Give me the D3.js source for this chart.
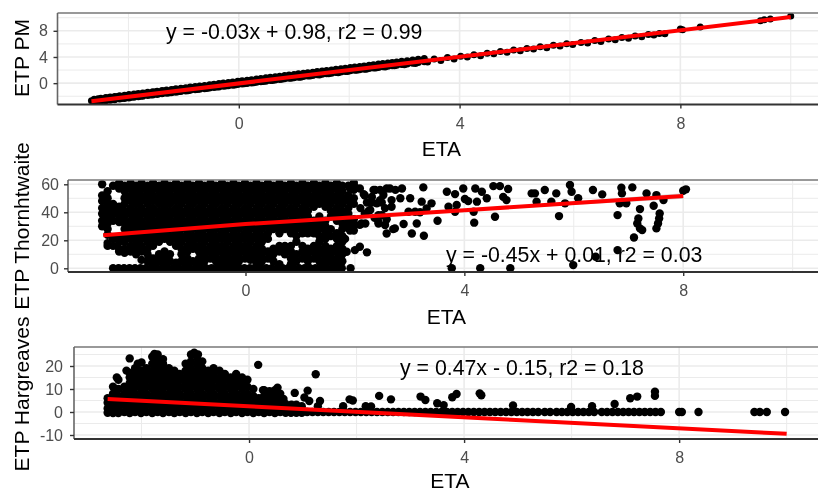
<!DOCTYPE html>
<html><head><meta charset="utf-8">
<script src="https://cdn.jsdelivr.net/npm/d3@7"></script>
<style>
html,body{margin:0;padding:0;background:#fff}
svg{display:block;filter:blur(0.4px)}
text{font-family:"Liberation Sans",Arial,sans-serif}
</style></head><body><svg id="c" width="818" height="492"></svg>
<script>
// ---- Axis labels and ticks
const xLabel = "ETA";
const etaTicks = [0, 4, 8];
const etaMinor = [-2, 2, 6, 10];
const pmTicks = [0, 4, 8];
const pmMinor = [-2, 2, 6, 10];
const thornTicks = [0, 20, 40, 60];
const thornMinor = [10, 30, 50];
const hargTicks = [-10, 0, 10, 20];
const hargMinor = [-5, 5, 15, 25];

// ---- Panel 1: ETP PM, [ETA, ETP]
const pmPoints = [[-2.67,-2.7],[-2.6,-2.85],[-2.55,-2.4],[-2.45,-2.6],[-2.38,-2.25],[-2.3,-2.5],[-2.2,-2.05],[-2.12,-2.35],[-2.03,-1.9],[-1.95,-2.15],[-1.86,-1.7],[-1.78,-2.0],[-1.7,-1.55],[-1.6,-1.8],[-1.52,-1.35],[-1.44,-1.6],[-1.35,-1.2],[-1.27,-1.5],[-1.18,-1.0],[-1.1,-1.3],[-1.0,-.85],[-.92,-1.15],[-.83,-.65],[-.75,-.95],[-.66,-.5],[-.58,-.8],[-.49,-.32],[-.4,-.6],[-.32,-.15],[-.24,-.45],[-.15,0],[-.07,-.28],[.02,.2],[.1,-.1],[.19,.37],[.27,.07],[.36,.54],[.44,.24],[.53,.7],[.61,.4],[.7,.88],[.78,.58],[.87,1.05],[.95,.75],[1.04,1.22],[1.12,.92],[1.21,1.4],[1.29,1.08],[1.38,1.56],[1.46,1.26],[1.55,1.73],[1.63,1.43],[1.72,1.9],[1.8,1.6],[1.89,2.06],[1.97,1.78],[2.06,2.24],[2.14,1.96],[2.23,2.4],[2.31,2.13],[2.4,2.58],[2.48,2.3],[2.57,2.75],[2.65,2.47],[2.74,2.92],[2.82,2.65],[2.9,3.08],[3.0,2.82],[3.1,3.26],[3.2,3.02],[3.3,3.48],[3.42,3.24],[3.54,3.7],[3.66,3.46],[3.78,3.92],[3.9,3.7],[4.02,4.12],[4.14,3.98],[4.26,4.35],[4.38,4.2],[4.5,4.58],[4.62,4.48],[4.74,4.82],[4.86,4.72],[4.98,5.06],[5.1,4.96],[5.22,5.3],[5.34,5.22],[5.46,5.55],[5.58,5.42],[5.7,5.8],[5.82,5.66],[5.94,6.02],[6.05,5.9],[6.2,6.22],[6.32,6.12],[6.45,6.5],[6.56,6.38],[6.7,6.75],[6.82,6.62],[6.94,6.98],[7.06,6.86],[7.18,7.22],[7.3,7.08],[7.42,7.42],[7.52,7.34],[7.62,7.6],[7.72,7.55],[8.0,8.28],[8.04,8.15],[8.36,8.6],[9.45,9.55],[9.52,9.7],[9.63,9.8],[10.0,10.25]];
const pmDenseEta = [-2.62,-2.5,-2.41,-2.33,-2.25,-2.16,-2.07,-1.99,-1.9,-1.82,-1.74,-1.65,-1.56,-1.48,-1.39,-1.31,-1.22,-1.14,-1.05,-.96,-.88,-.79,-.71,-.62,-.53,-.45,-.36,-.28,-.19,-.11,-.02,.06,.15,.23,.32,.4,.49,.57,.66,.74,.83,.91,1.0,1.08,1.17,1.25,1.34,1.42,1.51,1.59,1.68,1.76,1.85,1.93,2.02,2.1,2.19,2.27,2.36,2.44,2.53,2.61,2.7,2.78,2.86,2.95,3.05,3.15,3.25,3.36];
const pmDenseHi = [-2.45,-2.3,-2.2,-2.1,-2.02,-1.93,-1.84,-1.75,-1.66,-1.58,-1.49,-1.4,-1.31,-1.22,-1.13,-1.05,-.96,-.87,-.78,-.69,-.6,-.51,-.43,-.34,-.25,-.16,-.07,.02,.11,.19,.28,.37,.46,.54,.63,.72,.81,.89,.98,1.07,1.16,1.24,1.33,1.42,1.51,1.59,1.68,1.77,1.86,1.94,2.03,2.12,2.21,2.29,2.38,2.47,2.56,2.64,2.73,2.82,2.91,2.99,3.08,3.17,3.25,3.34,3.44,3.55,3.66,3.77];
const pmDenseLo = [-2.9,-2.78,-2.68,-2.6,-2.52,-2.43,-2.34,-2.25,-2.16,-2.08,-1.99,-1.9,-1.81,-1.72,-1.63,-1.55,-1.46,-1.37,-1.28,-1.19,-1.1,-1.01,-.93,-.84,-.75,-.66,-.57,-.48,-.39,-.31,-.22,-.13,-.04,.04,.13,.22,.31,.39,.48,.57,.66,.74,.83,.92,1.01,1.09,1.18,1.27,1.36,1.44,1.53,1.62,1.71,1.79,1.88,1.97,2.06,2.14,2.23,2.32,2.41,2.49,2.58,2.67,2.75,2.84,2.94,3.05,3.16,3.27];
const pmFit = [[-2.67,-2.75],[10,10.1]];

// ---- Panel 2: ETP Thornthwaite. Dense cloud as [ETA, [ETP...]] columns
const thornColumns = [
[-2.62,[60,52,48,43,39,34,30]],
[-2.52,[55,50,46,41,37,32,28,24,18,16]],
[-2.42,[59,46,43,39,34,21,16]],
[-2.31,[61,57,44,41,37,33,22,19,14,12]],
[-2.21,[59,55,50,46,41,37,32,28,23,19,14,11]],
[-2.10,[61,57,52,48,43,39,34,30,25,21,16,12]],
[-2.00,[59,55,50,46,41,37,32,28,23,19,14,10]],
[-1.90,[61,57,52,48,43,39,34,30,25,21,16,12,6]],
[-1.79,[59,55,50,46,41,37,32,28,23,19,14,10,5]],
[-1.69,[61,57,52,48,43,39,34,30,25,21,16,7,4]],
[-1.58,[59,55,50,46,41,37,32,28,23,19,10,5]],
[-1.48,[61,57,52,48,43,39,34,30,25,21,12,7,3]],
[-1.38,[59,55,50,46,41,37,32,28,23,19,10,5]],
[-1.27,[61,57,52,48,43,39,34,30,25,21,16,4]],
[-1.17,[59,55,50,46,41,37,32,28,23,19,14,10,5]],
[-1.06,[61,57,52,48,43,39,34,30,25,21,16,12,7,3]],
[-0.96,[59,55,50,46,41,37,32,28,23,19,14,5]],
[-0.85,[61,57,52,48,43,39,34,30,25,21,16,12,7,3]],
[-0.75,[59,55,50,46,41,37,32,28,23,19,14,10,5]],
[-0.64,[61,57,52,48,43,39,34,30,25,21,16,12,7]],
[-0.54,[59,55,50,46,41,37,32,28,23,19,14,10,5]],
[-0.43,[61,57,52,48,43,39,34,30,25,21,16,12,7,3]],
[-0.33,[59,55,50,46,41,37,32,28,23,19,14,10,5]],
[-0.22,[61,57,52,48,43,39,34,30,25,21,16,12,7,3]],
[-0.12,[59,55,50,46,41,37,32,28,23,19,14,10,5]],
[-0.01,[61,57,52,48,43,39,34,30,25,21,16,12,7]],
[0.09,[59,55,50,46,41,37,32,28,23,19,14,10,6]],
[0.20,[61,57,52,48,43,39,34,30,25,21,16,12,7,3]],
[0.30,[59,55,50,46,41,37,32,28,23,19,14,10,5]],
[0.41,[61,57,52,48,43,39,34,30,25,21,12,7]],
[0.51,[59,55,50,46,41,37,32,28,14,10,5]],
[0.62,[61,57,52,48,43,39,34,30,25,16,12,3]],
[0.72,[59,55,50,46,41,37,32,28,16,14,10]],
[0.83,[61,57,52,48,43,39,34,30,25,16,12,7,3]],
[0.93,[59,55,50,46,41,37,32,28,23,19,10,5]],
[1.04,[61,57,52,48,43,39,34,30,25,16,12,7]],
[1.14,[59,55,50,46,41,37,32,28,25,14,10,5]],
[1.25,[61,57,52,48,44,34,30,25,16,12,7]],
[1.35,[59,55,50,46,37,32,28,23,19,14,10,5]],
[1.46,[61,57,52,48,44,34,30,25,21,16,12,7,3]],
[1.56,[59,55,50,46,41,37,28,23,14,10,5]],
[1.67,[61,57,52,48,43,39,34,25,21,16,12,7,3]],
[1.77,[59,55,50,46,41,37,32,28,23,19,14,10,5]],
[1.88,[59,52,48,43,39,34,30]],
[1.98,[61,56,50,46,35,31,27]]];
const thornSparse = [[2.09,57],[1.91,57],[2.18,52],[2.31,51],[2.28,41.6],[2.4,46.4],[2.37,55.9],[2.46,56],[2.52,52.3],[2.46,48.7],[2.58,57],[2.64,57],[2.18,39],[2.09,31],[2.0,31],[1.91,27],[1.82,21],[2.19,32],[2.09,15.4],[2.22,11.4],[2.0,13],[1.85,11.8],[3.25,57.8],[2.86,57],[3.68,54.7],[3.83,53],[3.98,57],[4.2,57],[4.32,54.7],[4.53,58.7],[4.65,58.7],[4.8,56.6],[4.71,51],[4.77,48.7],[4.41,50],[4.01,49.5],[4.23,47.6],[4.07,48],[3.4,46.4],[3.22,47.6],[3.31,42.8],[3.01,50],[2.83,50],[2.67,48.7],[2.98,40.4],[3.1,40.4],[3.19,40],[2.89,31.6],[2.73,28.5],[3.13,32],[3.04,24.9],[3.26,23.3],[3.51,34],[3.71,44],[3.83,40.4],[3.86,45.2],[4.17,40.4],[4.56,36.8],[4.18,32.6],[2.58,24.9],[2.55,30.9],[2.43,33.3],[2.49,38],[5.23,53.5],[5.29,53.5],[5.47,55.9],[5.68,53.5],[5.93,59.5],[5.96,54.7],[6.08,50],[6.35,55.9],[6.52,52.8],[6.87,57.6],[6.88,53.5],[7.07,57.8],[7.33,53.5],[7.51,52.3],[7.64,48.7],[8.0,55.4],[8.05,56.4],[5.32,47.6],[5.59,47.6],[5.84,46.4],[6.84,46.4],[6.96,46.4],[5.73,37.3],[6.8,38],[7.21,42.3],[7.46,44.7],[7.57,39.2],[7.56,35.6],[7.54,32],[7.51,28.5],[7.18,35.6],[7.16,32],[7.21,28.5],[7.25,27.3],[7.1,22],[6.8,13],[6.4,8.3],[5.99,2.3],[3.77,0],[4.29,0],[4.84,0],[1.92,0],[2.0,58],[2.16,53],[2.34,56],[2.74,56],[2.31,47],[2.49,47],[2.67,44],[2.25,41],[2.43,38],[2.58,35],[2.7,28],[2.43,32],[2.12,32],[1.88,31],[2.22,47],[2.1,43],[2.55,43],[2.36,36]];
const thornZeroRow = [-2.42,-2.32,-2.22,-2.12,-2.02,-1.92,-1.82,-1.72,-1.62,-1.52,-1.42,-1.32,-1.22,-1.12,-1.02,-0.92,-0.82,-0.72,-0.62,-0.52,-0.42,-0.32,-0.22,-0.12,-0.02,0.08,0.18,0.28,0.38,0.48,0.58,0.68,0.78,0.88,0.98,1.08,1.18,1.28,1.38,1.48,1.58,1.68,1.76];
const thornFit = [[-2.6,23.6,23.2,24.1],[0,31.6,31.2,32],[4,41.5,40.8,42.2],[8,51.6,49.6,53.6]];

// ---- Panel 3: ETP Hargreaves
const hargColumns = [
[-2.63,[6,4,1.5,-.3]],
[-2.53,[11,8,5.5,3,0,-.5]],
[-2.43,[14,10,7,4,1.5,-.5]],
[-2.32,[11,8,5.5,3,0]],
[-2.22,[17,15,12.5,10,7,4,1.5,-.5]],
[-2.12,[19,16.5,14,11,8,5.5,3,0]],
[-2.01,[18,15,12.5,10,7,4,1.5,-.5]],
[-1.91,[19,16.5,14,11,8,5.5,3,0]],
[-1.80,[24,21,18,15,12.5,10,7,4,1.5,-.5]],
[-1.70,[25,22,19,16.5,14,11,8,5.5,3,0]],
[-1.60,[23,21,18,15,12.5,10,7,4,1.5,-.5]],
[-1.49,[19,16.5,14,11,8,5.5,3,0]],
[-1.39,[18,15,12.5,10,7,4,1.5,-.5]],
[-1.29,[16.5,14,11,8,5.5,3,0]],
[-1.18,[21,18,15,12.5,10,7,4,1.5,-.5]],
[-1.08,[25,22,19,16.5,14,11,8,5.5,3,0]],
[-0.97,[24,21,18,15,12.5,10,7,4,1.5,-.5]],
[-0.87,[22,19,16.5,14,11,8,5.5,3,0]],
[-0.76,[18,15,12.5,10,7,4,1.5,-.5]],
[-0.66,[19,16.5,14,11,8,5.5,3,0]],
[-0.55,[18,15,12.5,10,7,4,1.5,-.5]],
[-0.45,[16.5,14,11,8,5.5,3,0]],
[-0.34,[15,12.5,10,7,4,1.5,-.5]],
[-0.24,[16.5,14,11,8,5.5,3,0]],
[-0.13,[15,12.5,10,7,4,1.5,-.5]],
[-0.03,[14,11,8,5.5,3,0]],
[0.08,[10,7,4,1.5,-.5]],
[0.18,[6,3,0]],
[0.28,[9.5,7,4,1.5,-.5]],
[0.38,[9,5.5,3,0]],
[0.48,[9.5,7,4,1.5,-.5]],
[0.58,[8,5.5,3,0]],
[0.68,[3.5,1.5,-.3]],
[0.78,[3,1.5,-.3]],
[0.88,[3.2,1,-.3]],
[0.98,[2.5,1,-.3]]];
const hargSparse = [[-2.22,23.3],[-2.07,21],[-2.0,21.5],[-2.46,15],[-2.28,18],[-1.76,25.2],[-1.02,25.8],[-0.95,25],[0.17,20.5],[1.24,16.4],[0.53,10.6],[0.26,9.5],[0.35,7.3],[0.64,5.7],[0.85,8.3],[1.09,9.3],[1.03,6.3],[1.12,4.8],[1.32,4.8],[0.79,3.2],[1.28,2.5],[1.75,2.5],[1.93,5],[1.87,5.5],[2.42,7],[2.64,5.5],[2.17,2.5],[2.27,2.4],[3.19,6.7],[3.28,5.2],[3.5,3.8],[3.62,3],[3.78,6.4],[3.86,7.8],[4.29,8.1],[4.32,7.3],[4.91,2.8],[5.99,2.2],[6.38,2.5],[6.8,3.5],[7.09,6],[7.22,6.7],[7.55,8.8],[7.55,7],[8.0,0],[8.05,0],[8.36,0],[9.4,0],[9.5,0],[9.63,0],[9.97,0]];
const hargZeroRow = [0.68,0.78,0.88,0.98,1.08,1.18,1.28,1.38,1.48,1.58,1.68,1.78,1.88,1.98,2.08,2.18,2.28,2.38,2.48,2.58,2.68,2.78,2.88,2.98,3.08,3.18,3.28,3.38,3.48,3.58,3.68,3.78,3.88,3.98,4.08,4.18,4.28,4.38,4.48,4.58,4.68,4.78,4.88,4.98,5.08,5.18,5.28,5.38,5.5,5.6,5.72,5.82,5.92,6.02,6.12,6.22,6.32,6.42,6.56,6.66,6.76,6.86,6.96,7.06,7.16,7.26,7.36,7.46,7.56,7.66];
const hargFit = [[-2.63,5.6],[10,-9.5]];

// ---- Flatten tables
const flatten = (cols, sparse, zero) => cols.flatMap(([x, ys]) => ys.map(y => [x, y])).concat(sparse, zero.map(x => [x, 0]));
const pmAll = pmPoints.concat(pmDenseEta.map((x, i) => [x, pmDenseHi[i]]), pmDenseEta.map((x, i) => [x, pmDenseLo[i]]));

const panels = [
 { px:[57.5,820], py:[104.5,13], x:[-3.285,10.53], y:[-3.26,10.72], yTicks:pmTicks, yMinor:pmMinor,
   pts:pmAll, r:3.5, fit:pmFit, yLabel:"ETP PM", yLabelPos:[29,58], etaLab:[441.5,148], note:"y = -0.03x + 0.98, r2 = 0.99", notePos:[166,33], tickRight:48 },
 { px:[68,820], py:[272,180], x:[-3.244,10.5], y:[-2.64,63.07], yTicks:thornTicks, yMinor:thornMinor,
   pts:flatten(thornColumns, thornSparse, thornZeroRow), r:4.2, fit:thornFit.map(d=>[d[0],d[1]]), band:thornFit, yLabel:"ETP Thornhtwaite", yLabelPos:[29,226], etaLab:[446.5,316], note:"y = -0.45x + 0.01, r2 = 0.03", notePos:[446,256], tickRight:59 },
 { px:[74,820], py:[439,347], x:[-3.256,10.62], y:[-11.74,28.26], yTicks:hargTicks, yMinor:hargMinor,
   pts:flatten(hargColumns, hargSparse, hargZeroRow), r:4.2, fit:hargFit, yLabel:"ETP Hargreaves", yLabelPos:[29,394], etaLab:[450,480], note:"y = 0.47x - 0.15, r2 = 0.18", notePos:[400,369], tickRight:63 }
];

const svg = d3.select("#c");
panels.forEach((p, i) => {
  const xs = d3.scaleLinear().domain(p.x).range(p.px);
  const ys = d3.scaleLinear().domain(p.y).range(p.py);
  const g = svg.append("g");
  const clipId = "clip" + i;
  svg.append("clipPath").attr("id", clipId).append("rect")
    .attr("x", p.px[0]).attr("y", p.py[1]).attr("width", p.px[1]-p.px[0]).attr("height", p.py[0]-p.py[1]);

  // grid
  const grid = g.append("g");
  const hl = (vals, w) => grid.selectAll(null).data(vals).join("line")
     .attr("x1", p.px[0]).attr("x2", p.px[1]).attr("y1", d=>ys(d)).attr("y2", d=>ys(d))
     .attr("stroke", "#ebebeb").attr("stroke-width", w);
  const vl = (vals, w) => grid.selectAll(null).data(vals).join("line")
     .attr("y1", p.py[0]).attr("y2", p.py[1]).attr("x1", d=>xs(d)).attr("x2", d=>xs(d))
     .attr("stroke", "#ebebeb").attr("stroke-width", w);
  hl(p.yMinor, 1); vl(etaMinor, 1); hl(p.yTicks, 1.6); vl(etaTicks, 1.6);

  const plot = g.append("g").attr("clip-path", `url(#${clipId})`);
  if (p.band) {
    plot.append("path").datum(p.band)
      .attr("d", d3.area().x(d=>xs(d[0])).y0(d=>ys(d[2])).y1(d=>ys(d[3])))
      .attr("fill", "#999").attr("opacity", .45);
  }
  plot.selectAll("circle").data(p.pts).join("circle")
    .attr("cx", d=>xs(d[0])).attr("cy", d=>ys(d[1])).attr("r", p.r).attr("fill", "#000");
  plot.append("path").datum(p.fit)
    .attr("d", d3.line().x(d=>xs(d[0])).y(d=>ys(d[1])))
    .attr("fill", "none").attr("stroke", "#f00").attr("stroke-width", 4);

  // border
  g.append("line").attr("x1",p.px[0]).attr("x2",p.px[1]).attr("y1",p.py[1]).attr("y2",p.py[1]).attr("stroke","#777").attr("stroke-width",1.6);
  g.append("line").attr("x1",p.px[0]).attr("x2",p.px[0]).attr("y1",p.py[1]).attr("y2",p.py[0]).attr("stroke","#666").attr("stroke-width",1.6);
  g.append("line").attr("x1",p.px[0]).attr("x2",p.px[1]).attr("y1",p.py[0]).attr("y2",p.py[0]).attr("stroke","#333").attr("stroke-width",1.8);

  // axes
  const ax = g.append("g").attr("transform", `translate(0,${p.py[0]})`)
    .call(d3.axisBottom(xs).tickValues(etaTicks).tickFormat(d3.format("d")).tickSize(4).tickPadding(9));
  const ay = g.append("g").attr("transform", `translate(${p.px[0]},0)`)
    .call(d3.axisLeft(ys).tickValues(p.yTicks).tickFormat(d=>d<0?"-"+Math.abs(d):d).tickSize(4).tickPadding(p.px[0]-p.tickRight-4));
  [ax, ay].forEach(a => {
    a.select(".domain").remove();
    a.selectAll("line").attr("stroke","#333").attr("stroke-width",1.4);
    a.selectAll("text").attr("fill","#4d4d4d").style("font-size","16px");
  });

  // labels
  g.append("text").text(xLabel).attr("x",p.etaLab[0]).attr("y",p.etaLab[1]+7.5).attr("text-anchor","middle").style("font-size","21px").attr("fill","#000");
  g.append("text").text(p.yLabel).attr("transform",`translate(${p.yLabelPos[0]},${p.yLabelPos[1]}) rotate(-90)`).attr("text-anchor","middle").style("font-size","21px").attr("fill","#000");
  g.append("text").text(p.note).attr("x",p.notePos[0]).attr("y",p.notePos[1]+6).style("font-size","21.3px").attr("fill","#000");
});
</script></body></html>
